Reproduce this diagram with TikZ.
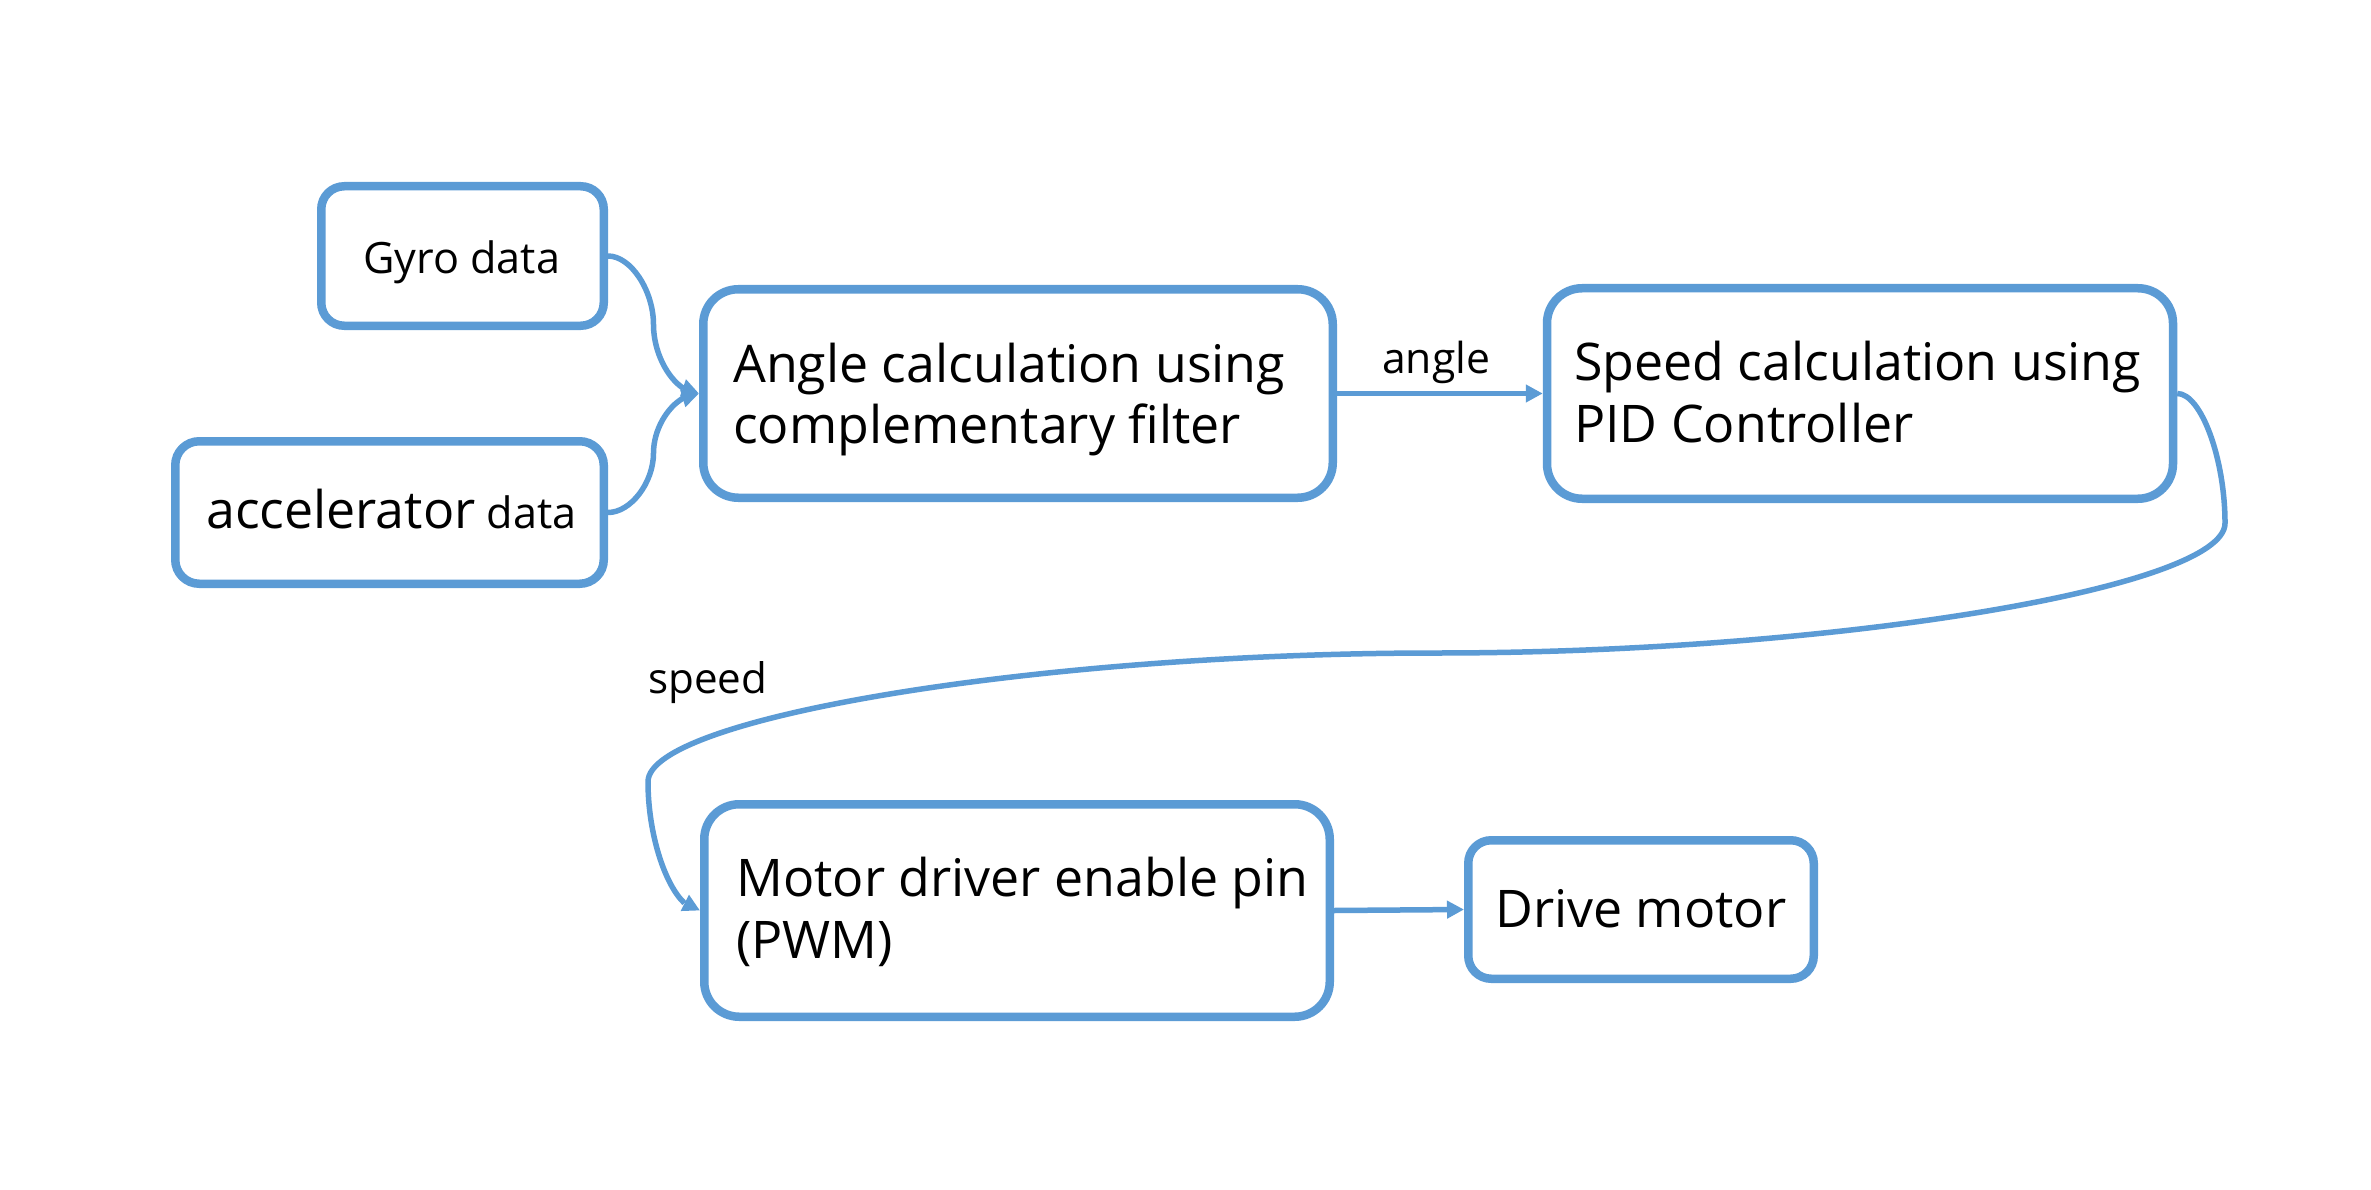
\documentclass[tikz,border=0pt]{standalone}
\usepackage{fontspec}
\setmainfont{Open Sans}
\usetikzlibrary{arrows.meta,bending,calc}
\definecolor{boxblue}{HTML}{5B9BD5}
\newlength\fitlen
\newcommand\fitcalc[3]{\setbox0=\hbox{\normalfont\fontsize{10pt}{12pt}\selectfont #3}\global\fitlen=\wd0\relax\pgfmathsetmacro#1{10*#2/\the\fitlen}\global\let#1#1}
\AtBeginDocument{%
\fitcalc\bigsz{552}{Angle calculation using}%
\fitcalc\smallsz{197}{Gyro data}%
\fitcalc\angsz{108}{angle}%
\fitcalc\spdsz{119}{speed}%
}
\begin{document}
\begin{tikzpicture}[x=1pt,y=-1pt,
  blk/.style={draw=boxblue, line width=8.5pt, fill=white, rectangle, inner sep=0pt},
  conn/.style={draw=boxblue, line width=5.5pt, -{Triangle[length=17pt,width=17pt,flex]}},
  txt/.style={anchor=base west, inner sep=0pt, text=black},
  bigtxt/.style={txt, font=\fontsize{\bigsz pt}{\bigsz pt}\selectfont},
  smalltxt/.style={txt, font=\fontsize{\smallsz pt}{\smallsz pt}\selectfont},
  cc3/.style={to path={let \p1=(\tikztostart), \p2=(\tikztotarget),
     \n1={(\x1+\x2)/2}, \n2={(\y1+\y2)/2},
     \n3={(\x1+\n1)/2}, \n4={(3*\y1+\y2)/4},
     \n5={(\y1+3*\y2)/4}, \n6={(\n1+\x2)/2} in
     .. controls ({\n3*1pt},\y1) and ({\n1*1pt},{\n4*1pt}) .. ({\n1*1pt},{\n2*1pt})
     .. controls ({\n1*1pt},{\n5*1pt}) and ({\n6*1pt},\y2) .. (\tikztotarget)}}
]
\useasboundingbox[fill=white] (0,0) rectangle (2371,1190);

% boxes
\node[blk, minimum width=282.5pt, minimum height=139.5pt, rounded corners=23pt] (gyro) at (462.5,256) {};
\node[blk, minimum width=428.5pt, minimum height=142.5pt, rounded corners=24pt] (acc) at (389.5,512.5) {};
\node[blk, minimum width=629.5pt, minimum height=208.5pt, rounded corners=35pt] (ang) at (1018,393.5) {};
\node[blk, minimum width=626pt, minimum height=210.5pt, rounded corners=35pt] (spd) at (1860,393.5) {};
\node[blk, minimum width=625.5pt, minimum height=212.5pt, rounded corners=35pt] (mot) at (1017,910.5) {};
\node[blk, minimum width=345.5pt, minimum height=138.5pt, rounded corners=23pt] (drv) at (1641,909.5) {};

% texts
\node[smalltxt] (gyrot) at (363,273) {Gyro data};
\node[bigtxt] (acct) at (206,528) {accelerator{\fontsize{\smallsz pt}{\smallsz pt}\selectfont\ data}};
\node[bigtxt] (angt1) at (733,382) {Angle calculation using};
\node[bigtxt] (angt2) at (733,443) {complementary filter};
\node[bigtxt] (spdt1) at (1574,380) {Speed calculation using};
\node[bigtxt] (spdt2) at (1574,442) {PID Controller};
\node[bigtxt] (mott1) at (736,896) {Motor driver enable pin};
\node[bigtxt] (mott2) at (736,958) {(PWM)};
\node[bigtxt] (drvt) at (1495,927) {Drive motor};
\node[txt, font=\fontsize{\angsz pt}{\angsz pt}\selectfont] (anglab) at (1382,373) {angle};
\node[txt, font=\fontsize{\spdsz pt}{\spdsz pt}\selectfont] (spdlab) at (648,693) {speed};

% connectors
\draw[conn] (gyro.east) to[cc3] (ang.west);
\draw[conn] (acc.east) to[cc3] (ang.west);
\draw[conn] (ang.east) -- (spd.west);
\draw[conn] (mot.east) -- (drv.west);
\draw[conn] (spd.east) .. controls (2201,393.5) and (2225,458.4) .. (2225,523.25)
   .. controls (2225,588.1) and (1830.75,653) .. (1436.5,653)
   .. controls (1042.25,653) and (648,717.4) .. (648,781.75)
   .. controls (648,846.1) and (674,910.5) .. (mot.west);
\end{tikzpicture}
\end{document}
